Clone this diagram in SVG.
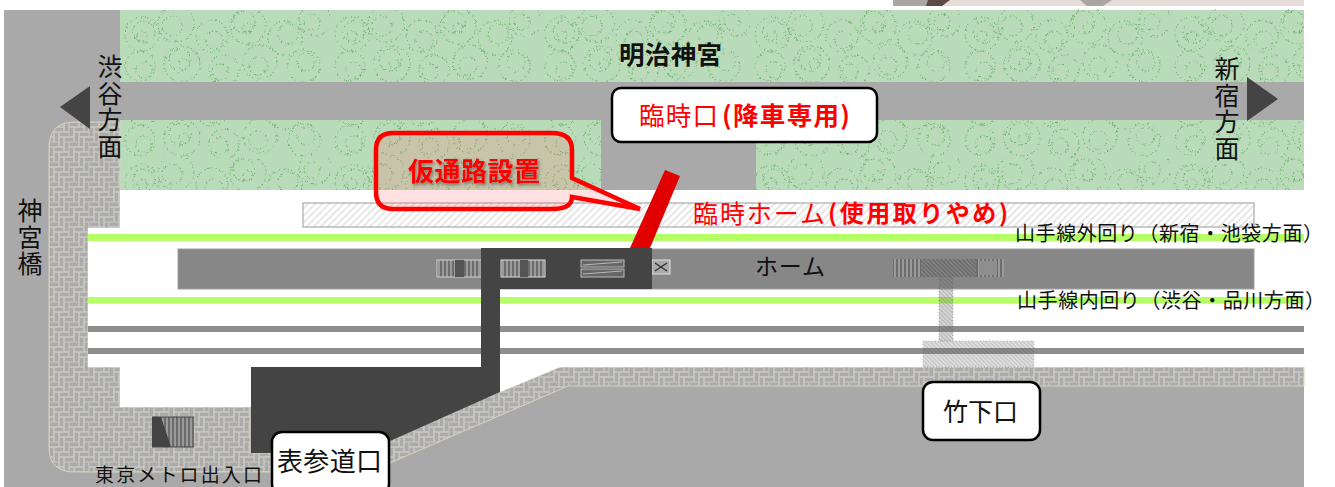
<svg xmlns="http://www.w3.org/2000/svg" width="1335" height="487" viewBox="0 0 1335 487">
<style>
text{font-family:"Noto Sans CJK JP","Noto Sans",sans-serif;fill:#111}
.r{fill:#ff0000}
.b{font-weight:700}
.v{writing-mode:vertical-rl;letter-spacing:1.5px}
.box{fill:#fff;stroke:#000;stroke-width:2.5}
.rail{fill:#8e8e8e}
.jr{fill:#b4ff64}
.dark{fill:#444}
.dot{stroke:#666;stroke-width:1;stroke-dasharray:1 2}
</style>
<defs>
<pattern id="trees" width="210" height="74" patternUnits="userSpaceOnUse" x="120" y="10">
<g fill="none" stroke="#62ad62" stroke-width="1.400" stroke-linecap="round" stroke-dasharray="0.100 3.500 0.100 2.500 0.100 5">
<circle cx="22" cy="24" r="17"/><circle cx="24" cy="22" r="11"/><circle cx="22" cy="26" r="5"/>
<circle cx="56" cy="14" r="18"/><circle cx="52" cy="16" r="10"/>
<circle cx="92" cy="26" r="16"/><circle cx="94" cy="30" r="9"/>
<circle cx="128" cy="16" r="18"/><circle cx="124" cy="12" r="11"/><circle cx="128" cy="18" r="5"/>
<circle cx="165" cy="28" r="17"/><circle cx="168" cy="24" r="10"/>
<circle cx="195" cy="10" r="16"/><circle cx="192" cy="12" r="8"/>
<circle cx="20" cy="56" r="15"/><circle cx="24" cy="60" r="8"/>
<circle cx="62" cy="54" r="18"/><circle cx="60" cy="50" r="11"/><circle cx="64" cy="54" r="5"/>
<circle cx="104" cy="60" r="15"/><circle cx="100" cy="62" r="8"/>
<circle cx="140" cy="52" r="17"/><circle cx="138" cy="56" r="9"/>
<circle cx="184" cy="56" r="16"/><circle cx="186" cy="52" r="9"/>
</g>
</pattern>
<pattern id="pave" width="20" height="20" patternUnits="userSpaceOnUse" x="49" y="122">
<rect width="20" height="20" fill="#ababab"/>
<path d="M0 0h10v5h-10zM5 5h10v5h-10zM10 10h10v5h-10zM15 15h10v5h-10zM-5 15h10v5h-10zM0 5h5v10h-5zM5 10h5v10h-5zM10 15h5v10h-5zM10 -5h5v10h-5zM15 0h5v10h-5z" fill="none" stroke="#cdcbc4" stroke-width="0.900"/>
</pattern>
<pattern id="hatchLight" width="5" height="5" patternUnits="userSpaceOnUse" patternTransform="rotate(-45)">
<rect width="5" height="5" fill="#fff"/>
<line x1="0" y1="2" x2="5" y2="2" stroke="#cfcfcf" stroke-width="1"/>
</pattern>
<pattern id="hatchGray" width="3" height="3" patternUnits="userSpaceOnUse" patternTransform="rotate(45)">
<rect width="3" height="3" fill="#8a8a8a" fill-opacity="0.500"/>
<line x1="0" y1="1" x2="3" y2="1" stroke="#555" stroke-width="1"/>
</pattern>
<pattern id="steps" width="4" height="10" patternUnits="userSpaceOnUse">
<rect width="4" height="10" fill="#9a9a9a"/>
<line x1="1" y1="0" x2="1" y2="10" stroke="#555" stroke-width="1.300"/>
</pattern>
<filter id="rough" x="0" y="-5%" width="100%" height="110%">
<feTurbulence type="fractalNoise" baseFrequency="0.4" numOctaves="2" seed="4"/>
<feDisplacementMap in="SourceGraphic" scale="4" xChannelSelector="R" yChannelSelector="G"/>
</filter>
<filter id="shadow" x="-10%" y="-20%" width="120%" height="150%">
<feDropShadow dx="1.500" dy="2" stdDeviation="1.500" flood-color="#444" flood-opacity="0.600"/>
</filter>
</defs>

<g id="ground">
<rect x="893" y="0" width="411" height="6" fill="#e6dcda"/>
<path d="M893 0H930L926 6H893ZM1080 0H1112L1103 6H1087Z" fill="#aaa6a4"/>
<path d="M928 0H950L942 6H926Z" fill="#5c4a46"/>
<rect x="4" y="10" width="1300" height="477" fill="#a9a9a9"/>
<rect x="120" y="10" width="1184" height="72" fill="#b9dbb9"/>
<rect x="120" y="120" width="1184" height="70" fill="#b9dbb9"/>
<rect x="120" y="10" width="1184" height="72" fill="url(#trees)" filter="url(#rough)" opacity="0.800"/>
<rect x="120" y="120" width="1184" height="70" fill="url(#trees)" filter="url(#rough)" opacity="0.800"/>
<rect x="120" y="82" width="1184" height="38" fill="#a9a9a9"/>
<rect x="601" y="120" width="155" height="70" fill="#a9a9a9"/>
<path d="M49 448V148Q49 122 75 122H120V228H88V367H120V407H250V453H330L500 392L560 367H1304V386H568L390 463L370 472H75Q49 472 49 448Z" fill="url(#pave)" stroke="#d9d4bf" stroke-width="1"/>
<path d="M120 190H1304V367H560L500 392V367H251V407H120V367H88V228H120Z" fill="#fff"/>
<rect x="88" y="234" width="1216" height="7" class="jr"/>
<rect x="88" y="297" width="1216" height="6.500" class="jr"/>
<rect x="88" y="326" width="1216" height="6" class="rail"/>
<rect x="88" y="348" width="1216" height="6" class="rail"/>
</g>

<g id="temporary-platform">
<rect x="303" y="203" width="951" height="24" fill="url(#hatchLight)" stroke="#aaa" stroke-width="1.200"/>
</g>

<g id="platform">
<rect x="178" y="249" width="1076" height="40" fill="#878787" stroke="#a0a0a0" stroke-width="1"/>
<rect x="437" y="260" width="44" height="17" fill="url(#steps)" stroke="#d0d0d0"/>
<rect x="455" y="260" width="9" height="17" fill="#555"/>
<rect x="652" y="260" width="18" height="14" fill="#aaa" stroke="#ddd"/>
<path d="M655 263L667 271M667 263L655 271" stroke="#333" stroke-width="1.500"/>
</g>

<g id="omotesando-concourse">
<path d="M481 248H652V289H500V392L390 441L365 453H251V367H481Z" class="dark"/>
<rect x="501" y="260" width="44" height="17" fill="url(#steps)" stroke="#ddd"/>
<rect x="520" y="260" width="8" height="17" fill="#555"/>
<rect x="581" y="260" width="43" height="7" fill="#666" stroke="#bbb"/>
<rect x="581" y="269" width="43" height="8" fill="#666" stroke="#bbb"/>
<path d="M583 265L622 262M583 274L622 271" stroke="#ccc" stroke-width="0.800"/>
</g>

<g id="takeshita-passage">
<rect x="893" y="259" width="28" height="18" fill="url(#steps)"/>
<rect x="976" y="259" width="28" height="18" fill="url(#steps)"/>
<rect x="979" y="261" width="18" height="14" fill="#8e8e8e"/>
<rect x="921" y="259" width="55" height="18" fill="url(#hatchGray)"/>
<rect x="939" y="277" width="14" height="64" fill="url(#hatchGray)" opacity="0.550" class="dot"/>
<rect x="923" y="341" width="111" height="26" fill="url(#hatchGray)" opacity="0.450" class="dot"/>
</g>

<g id="metro-entrance">
<rect x="152" y="417" width="42" height="30" fill="url(#steps)"/>
<path d="M152 417H161L171 447H152Z" class="dark"/>
<path d="M152 417H194M152 447H194" stroke="#444"/>
</g>

<g id="connectors">
<path d="M60 107L90 86V129Z" class="dark"/>
<path d="M1247 77L1278 99L1247 121Z" class="dark"/>
<path d="M665 170L680 176L650 248H630Z" fill="#e00000"/>
</g>

<g id="callout">
<path d="M393 133H552Q572 133 572 150V178L640 209L572 197Q572 209 552 209H393Q376 209 376 192V150Q376 133 393 133Z" fill="#ff6a6a" fill-opacity="0.200" stroke="#ff0000" stroke-width="4.500"/>
<text x="408" y="181" font-size="26" class="r b" filter="url(#shadow)" textLength="132">仮通路設置</text>
</g>

<g id="meiji-jingu"><text x="619" y="64" font-size="25.500" class="b" textLength="103">明治神宮</text></g>

<g id="shibuya-dir"><text x="110" y="54" font-size="25" class="v">渋谷方面</text></g>
<g id="shinjuku-dir"><text x="1227" y="56" font-size="25" class="v">新宿方面</text></g>
<g id="jingubashi"><text x="30" y="198" font-size="25" class="v">神宮橋</text></g>

<g id="rinji-exit">
<rect x="612" y="88" width="265" height="54" rx="9" class="box"/>
<text x="639" y="125" font-size="25.500" class="r" textLength="79">臨時口</text>
<text x="722" y="125" font-size="25.500" class="r b" textLength="128">(降車専用)</text>
</g>

<g id="rinji-platform-label">
<text x="693" y="223" font-size="25" class="r" textLength="132">臨時ホーム</text>
<text x="828" y="222" font-size="24" class="r b" textLength="180">(使用取りやめ)</text>
</g>
<g id="home-label"><text x="755" y="275" font-size="23" textLength="70">ホーム</text></g>
<g id="outer-line"><text x="1015" y="241" font-size="20" textLength="308">山手線外回り（新宿・池袋方面）</text></g>
<g id="inner-line"><text x="1017" y="308" font-size="20" textLength="308">山手線内回り（渋谷・品川方面）</text></g>

<g id="takeshita-exit">
<rect x="923" y="382" width="117" height="58" rx="10" class="box"/>
<text x="943" y="421" font-size="25" textLength="75">竹下口</text>
</g>
<g id="omotesando-exit">
<rect x="272" y="432" width="117" height="62" rx="10" class="box"/>
<text x="277" y="471" font-size="26" textLength="105">表参道口</text>
</g>
<g id="metro-label"><text x="95" y="481.500" font-size="19" textLength="167">東京メトロ出入口</text></g>
</svg>
